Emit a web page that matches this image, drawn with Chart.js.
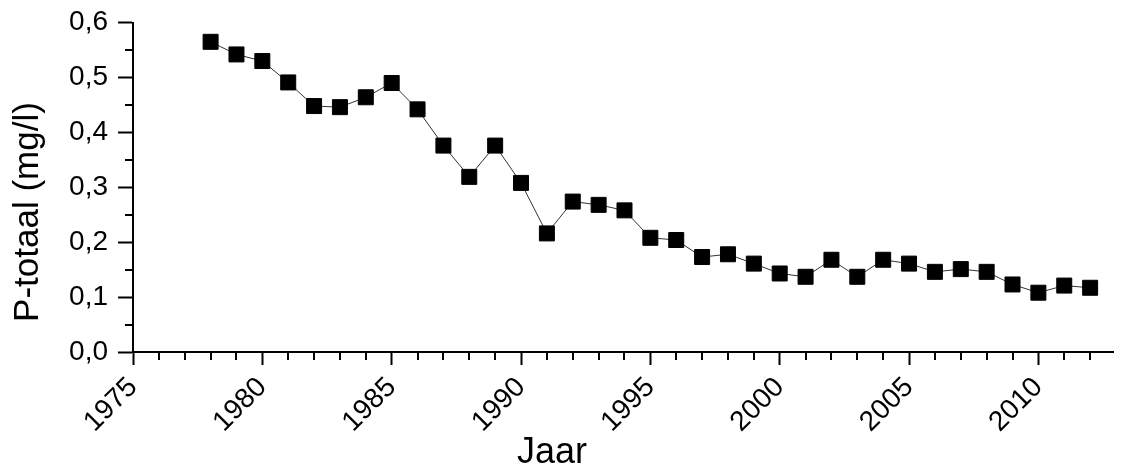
<!DOCTYPE html>
<html>
<head>
<meta charset="utf-8">
<script src="https://cdn.jsdelivr.net/npm/chart.js@4/dist/chart.umd.min.js"></script>
<style>
  html, body { margin: 0; padding: 0; background: #fff; }
  #wrap { width: 1125px; height: 470px; }
</style>
</head>
<body>
<div id="wrap"><canvas id="ChartP"></canvas></div>
<script>
(function () {
  "use strict";

  // Data
  const years = [1978, 1979, 1980, 1981, 1982, 1983, 1984, 1985, 1986, 1987,
                 1988, 1989, 1990, 1991, 1992, 1993, 1994, 1995, 1996, 1997,
                 1998, 1999, 2000, 2001, 2002, 2003, 2004, 2005, 2006, 2007,
                 2008, 2009, 2010, 2011, 2012];
  const pTotaal = [0.565, 0.542, 0.530, 0.491, 0.448, 0.446, 0.464, 0.490, 0.442, 0.376,
                   0.319, 0.376, 0.308, 0.216, 0.274, 0.268, 0.258, 0.208, 0.204, 0.173,
                   0.178, 0.161, 0.143, 0.137, 0.168, 0.137, 0.168, 0.161, 0.146, 0.151,
                   0.146, 0.123, 0.108, 0.121, 0.117];
  const xTicks = [1975, 1980, 1985, 1990, 1995, 2000, 2005, 2010];
  const yTicks = [0.0, 0.1, 0.2, 0.3, 0.4, 0.5, 0.6];
  const xTitle = 'Jaar';
  const yTitle = 'P-totaal (mg/l)';

  const fontFamily = '"Liberation Sans", Arial, sans-serif';
  const black = '#000000';

  // minor ticks + axis titles (Chart.js has no minor ticks on linear scales)
  const axisExtras = {
    id: 'axisExtras',
    afterDraw(chart) {
      const ctx = chart.ctx;
      const xs = chart.scales.x;
      const ys = chart.scales.y;
      ctx.save();
      ctx.strokeStyle = black;
      ctx.lineWidth = 2;
      ctx.beginPath();
      for (let v = xs.min; v <= xs.max; v += 1) {
        if (v % 5 === 0) continue;
        const px = Math.round(xs.getPixelForValue(v));
        ctx.moveTo(px, ys.bottom);
        ctx.lineTo(px, ys.bottom + 8);
      }
      for (let k = 0; k < yTicks.length - 1; k++) {
        const py = Math.round(ys.getPixelForValue(yTicks[k] + 0.05));
        ctx.moveTo(xs.left, py);
        ctx.lineTo(xs.left - 8, py);
      }
      ctx.stroke();

      ctx.fillStyle = black;
      ctx.font = '36px ' + fontFamily;
      ctx.textAlign = 'center';
      ctx.textBaseline = 'alphabetic';
      ctx.fillText(xTitle, xs.getPixelForValue(1991.2), 463);

      ctx.font = '35px ' + fontFamily;
      ctx.translate(38, 212);
      ctx.rotate(-Math.PI / 2);
      ctx.fillText(yTitle, 0, 0);
      ctx.restore();
    }
  };

  const ctp = document.getElementById('ChartP').getContext('2d');
  const PChart = new Chart(ctp, {
    type: 'line',
    data: {
      datasets: [{
        label: yTitle,
        data: years.map((y, i) => ({ x: y, y: pTotaal[i] })),
        borderColor: '#333333',
        borderWidth: 1,
        tension: 0,
        pointStyle: 'rect',
        pointRadius: 10.6,
        pointBorderWidth: 1,
        pointBackgroundColor: black,
        pointBorderColor: black,
        clip: false
      }]
    },
    options: {
      responsive: true,
      maintainAspectRatio: false,
      animation: false,
      events: [],
      layout: {
        padding: { top: 22, right: 0, bottom: 0, left: 0 }
      },
      scales: {
        x: {
          type: 'linear',
          min: 1975,
          max: 2012.9,
          afterBuildTicks: (scale) => {
            scale.ticks = xTicks.map(v => ({ value: v }));
          },
          afterFit: (scale) => { scale.height = 118; },
          border: { display: true, color: black, width: 2 },
          grid: {
            drawOnChartArea: false,
            drawTicks: true,
            tickLength: 13,
            tickWidth: 2,
            tickColor: black
          },
          ticks: {
            color: black,
            font: { family: fontFamily, size: 28 },
            minRotation: 45,
            maxRotation: 45,
            padding: 6,
            autoSkip: false,
            callback: (value) => String(value)
          }
        },
        y: {
          type: 'linear',
          min: 0,
          max: 0.6,
          afterBuildTicks: (scale) => {
            scale.ticks = yTicks.map(v => ({ value: v }));
          },
          afterFit: (scale) => { scale.width = 133; },
          border: { display: true, color: black, width: 2 },
          grid: {
            drawOnChartArea: false,
            drawTicks: true,
            tickLength: 15,
            tickWidth: 2,
            tickColor: black
          },
          ticks: {
            color: black,
            font: { family: fontFamily, size: 28, lineHeight: 0.9 },
            padding: 10,
            callback: (value) => value.toFixed(1).replace('.', ',')
          }
        }
      },
      plugins: {
        legend: { display: false },
        tooltip: { enabled: false }
      }
    },
    plugins: [axisExtras]
  });
})();
</script>
</body>
</html>
